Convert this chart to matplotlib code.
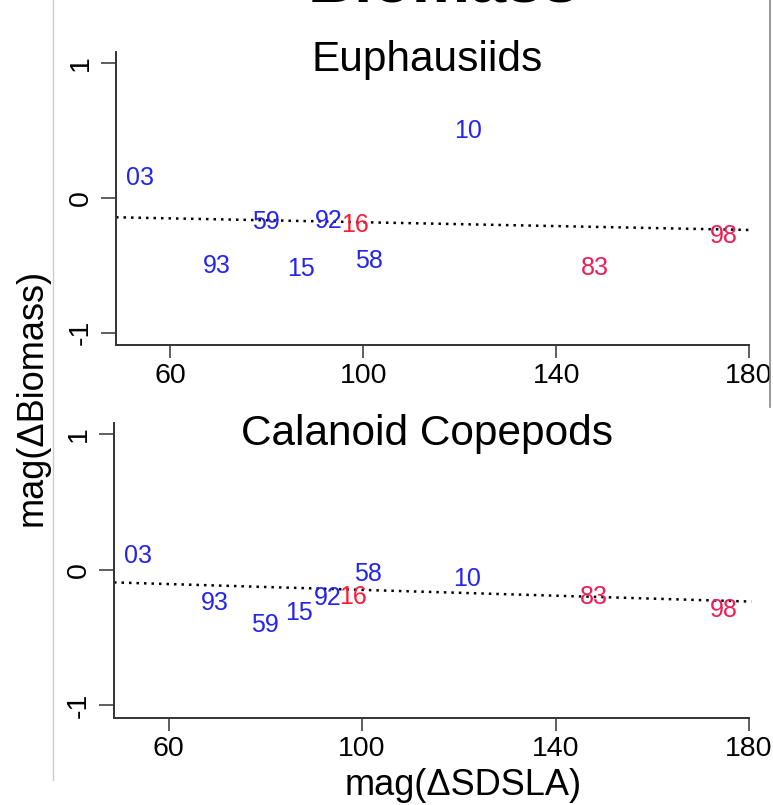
import numpy as np
import matplotlib
matplotlib.use("Agg")
import matplotlib.pyplot as plt
from matplotlib.lines import Line2D

plt.rcParams['font.family'] = ['Liberation Sans', 'DejaVu Sans']

# year codes and their colours
years = ['03', '93', '59', '15', '92', '16', '58', '10', '83', '98']
year_colors = ['#2424ee', '#2424ee', '#2424ee', '#2424ee', '#2424ee',
               '#ff1a33', '#2424ee', '#2424ee', '#ee1c55', '#ee1c55']

# mag(dSDSLA), shared by both panels
sdsla = [53.6, 69.6, 79.8, 87.0, 92.9, 98.2, 101.2, 121.7, 148.0, 174.8]

# mag(dBiomass)
euph = [0.17, -0.49, -0.16, -0.51, -0.15, -0.18, -0.45, 0.52, -0.50, -0.26]
cope = [0.12, -0.23, -0.39, -0.30, -0.19, -0.18, -0.01, -0.05, -0.18, -0.28]

# fitted lines (intercept, slope)
fit_euph = (-0.108, -0.000718)
fit_cope = (-0.041, -0.001076)

xticks = [60, 100, 140, 180]
yticks = [-1, 0, 1]
XLIM = (48.7, 180)
YLIM = (-1.092, 1.085)

W, H = 773, 805
fig = plt.figure(figsize=(W / 100, H / 100), dpi=100)


def panel(rect, vals, fit, title, title_base):
    ax = fig.add_axes(rect)
    ax.set_xlim(*XLIM)
    ax.set_ylim(*YLIM)
    for s in ['top', 'right']:
        ax.spines[s].set_visible(False)
    for s in ['left', 'bottom']:
        ax.spines[s].set_linewidth(1.4)
        ax.spines[s].set_color('#333333')
    ax.set_xticks(xticks)
    ax.set_yticks(yticks)
    ax.set_yticklabels([str(t) for t in yticks], rotation=90, va='center')
    ax.tick_params(axis='x', direction='out', length=9, width=1.1,
                   color='#333333', labelsize=20.5, pad=4)
    ax.tick_params(axis='y', direction='out', length=11, width=1.1,
                   color='#333333', labelsize=20.5, pad=5)

    xs = np.array([XLIM[0], 180.5])
    ax.plot(xs, fit[0] + fit[1] * xs, color='black', lw=1.8,
            linestyle=(0, (1, 2.0)), clip_on=False)

    for lab, x, y, c in zip(years, sdsla, vals, year_colors):
        ax.text(x, y, lab, color=c, fontsize=18, ha='center',
                va='center_baseline')

    fig.text(0.553, 1 - title_base / H, title, fontsize=30.5,
             ha='center', va='baseline')
    return ax


# top panel: left spine at x=116px, bottom 345px, top 52px
panel([116 / W, 1 - 345 / H, (749 - 116) / W, (345 - 52) / H],
      euph, fit_euph, 'Euphausiids', 71)
# bottom panel
panel([114 / W, 1 - 717.5 / H, (749 - 114) / W, (717.5 - 423) / H],
      cope, fit_cope, 'Calanoid Copepods', 445)

fig.text(32 / W, 1 - 397 / H, 'mag(\u0394Biomass)', rotation=90,
         fontsize=26, ha='center', va='center')
fig.text(463 / W, 1 - 785 / H, 'mag(\u0394SDSLA)', fontsize=26,
         ha='center', va='center')

# cropped figure title (only its lower edge shows) and frame edges of the slide
fig.text(443 / W, 1 - 1 / H, 'Biomass', fontsize=47, fontweight='bold',
         ha='center', va='baseline')
fig.add_artist(Line2D([53 / W, 53 / W], [1 - 780 / H, 1], color='#cccccc', lw=1))
fig.add_artist(Line2D([770 / W, 770 / W], [1 - 407 / H, 1], color='#888888', lw=1.2))

fig.savefig('out.png', dpi=100, facecolor='white')
